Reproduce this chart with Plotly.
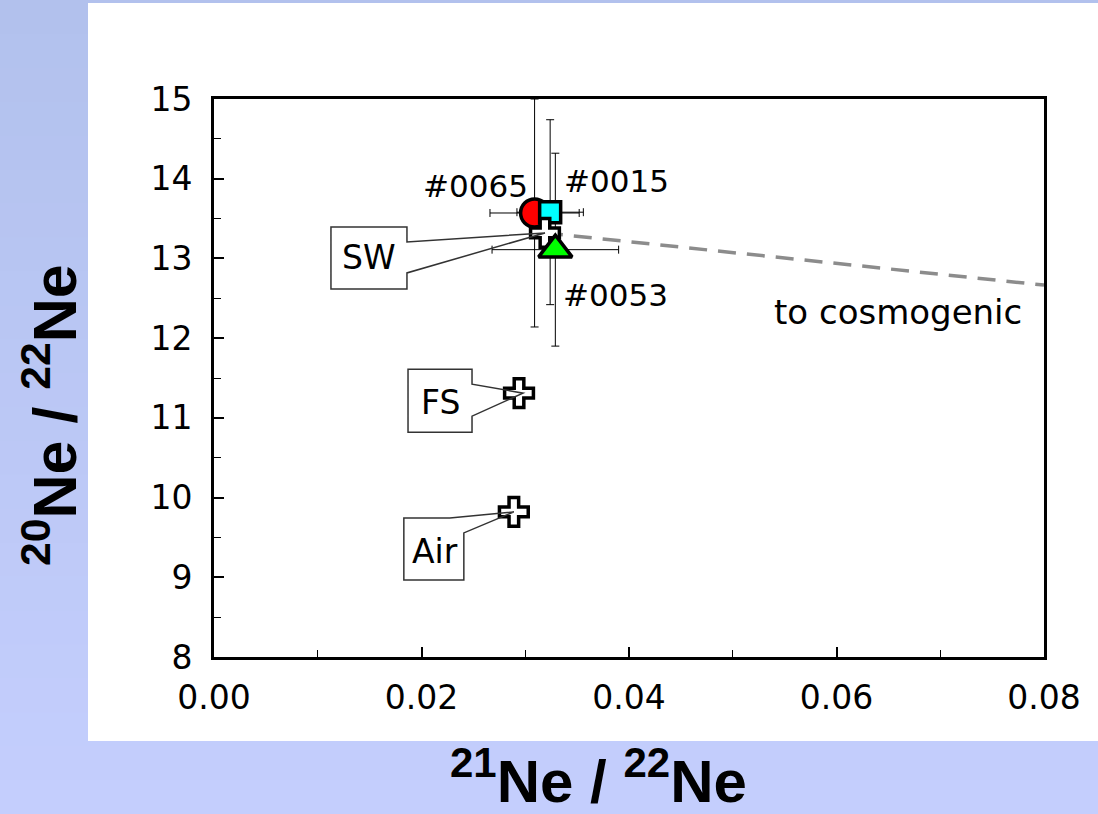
import plotly.graph_objects as go

# ---------------- data ----------------
samples = ["#0065", "#0015", "#0053"]
ne21_22 = [0.0309, 0.0324, 0.0329]
ne20_22 = [13.57, 13.58, 13.11]
ne21_err = [0.0043, 0.0032, 0.0061]
ne20_err = [1.43, 1.16, 1.21]
sample_colors = ["#ff0000", "#00ffff", "#00ff00"]
sample_symbols = ["circle", "square", "triangle-up"]
sample_sizes = [28, 21, 29]

refs = ["SW", "FS", "Air"]
ref_x = [0.0319, 0.0294, 0.0289]
ref_y = [13.32, 11.31, 9.82]

cosmo_x = [0.0319, 0.08]
cosmo_y = [13.32, 12.665]
cosmo_label = "to cosmogenic"

x_ticks = [0.00, 0.02, 0.04, 0.06, 0.08]
y_ticks = [8, 9, 10, 11, 12, 13, 14, 15]

# ---------------- layout constants (pixels) ----------------
W, H = 1098, 814
L, R, T, B = 214, 54, 99, 157
pw, ph = W - L - R, H - T - B
FONT = "DejaVu Sans, Liberation Sans, Arial, sans-serif"
TFONT = "Liberation Sans, Arial, sans-serif"

def px2paper_x(p):
    return (p - L) / pw

def px2paper_y(p):
    return (H - B - p) / ph

fig = go.Figure()

# mixing line toward cosmogenic
fig.add_trace(go.Scatter(x=cosmo_x, y=cosmo_y, mode="lines",
                         line=dict(color="#8c8c8c", width=3.5, dash="18px,11px"),
                         hoverinfo="skip", showlegend=False))

# error bars (behind all markers)
for i in range(len(samples)):
    fig.add_trace(go.Scatter(
        x=[ne21_22[i]], y=[ne20_22[i]], mode="markers",
        marker=dict(size=1, opacity=0),
        error_x=dict(type="data", array=[ne21_err[i]], color="black", thickness=1, width=4),
        error_y=dict(type="data", array=[ne20_err[i]], color="black", thickness=1, width=4),
        hoverinfo="skip", showlegend=False))

# sample markers: circle, square, then reference crosses, then triangle
order = [("s", 0), ("s", 1), ("r", 0), ("r", 1), ("r", 2), ("s", 2)]
for kind, i in order:
    if kind == "s":
        fig.add_trace(go.Scatter(
            x=[ne21_22[i]], y=[ne20_22[i]], mode="markers", name=samples[i],
            marker=dict(symbol=sample_symbols[i], size=sample_sizes[i],
                        color=sample_colors[i], line=dict(color="black", width=3.5)),
            showlegend=False))
    else:
        fig.add_trace(go.Scatter(
            x=[ref_x[i]], y=[ref_y[i]], mode="markers", name=refs[i],
            marker=dict(symbol="cross", size=24, color="white",
                        line=dict(color="black", width=3.5)),
            showlegend=False))

# ---------------- background ----------------
shapes = []
nstripes = 24
c_top = (178, 193, 237)
c_bot = (196, 206, 253)
for k in range(nstripes):
    f = k / (nstripes - 1)
    col = tuple(int(round(c_top[j] + (c_bot[j] - c_top[j]) * f)) for j in range(3))
    y0p = k * H / nstripes
    y1p = (k + 1) * H / nstripes
    shapes.append(dict(type="rect", xref="paper", yref="paper", layer="below",
                       x0=px2paper_x(0), x1=px2paper_x(W),
                       y0=px2paper_y(y1p + 1), y1=px2paper_y(y0p),
                       fillcolor="rgb(%d,%d,%d)" % col, line=dict(width=0)))
# white panel
shapes.append(dict(type="rect", xref="paper", yref="paper", layer="below",
                   x0=px2paper_x(88), x1=px2paper_x(W + 2),
                   y0=px2paper_y(741), y1=px2paper_y(3),
                   fillcolor="white", line=dict(width=0)))

# callout boxes (pixel offsets relative to each reference point)
callouts = {
    "SW": dict(path="M -214,6 L -138,6 L -138,-9 L 0,0 L -138,-40 L -138,-56 L -214,-56 Z",
               text=(-176, -25)),
    "FS": dict(path="M -111,24 L -47,24 L -47,9 L 4,0 L -47,-23 L -47,-39 L -111,-39 Z",
               text=(-79, -9)),
    "Air": dict(path="M -110,-6 L -64,-6 L 0,0 L -50,-21 L -50,-68 L -110,-68 Z",
                text=(-79, -40)),
}
annotations = []
for i, name in enumerate(refs):
    c = callouts[name]
    shapes.append(dict(type="path", xref="x", yref="y",
                       xsizemode="pixel", ysizemode="pixel",
                       xanchor=ref_x[i], yanchor=ref_y[i], path=c["path"],
                       line=dict(color="#333333", width=1.5), fillcolor="rgba(0,0,0,0)",
                       layer="above"))
    annotations.append(dict(x=ref_x[i], y=ref_y[i], xref="x", yref="y", text=name,
                            showarrow=False, xshift=c["text"][0], yshift=c["text"][1],
                            font=dict(family=FONT, size=33, color="black")))

# sample labels
label_shift = [(-59, 27), (66, 31), (60, -45)]
for i, s in enumerate(samples):
    annotations.append(dict(x=ne21_22[i], y=ne20_22[i], xref="x", yref="y", text=s,
                            showarrow=False, xshift=label_shift[i][0], yshift=label_shift[i][1],
                            font=dict(family=FONT, size=31, color="black")))

annotations.append(dict(x=cosmo_x[-1], y=cosmo_y[-1], xref="x", yref="y", text=cosmo_label,
                        showarrow=False, xanchor="right", xshift=-20, yshift=-27,
                        font=dict(family=FONT, size=34, color="black")))

# axis titles
annotations.append(dict(xref="paper", yref="paper", x=px2paper_x(598), y=px2paper_y(777),
                        text="<b><sup>21</sup>Ne / <sup>22</sup>Ne</b>", showarrow=False,
                        xanchor="center", yanchor="middle",
                        font=dict(family=TFONT, size=60, color="black")))
annotations.append(dict(xref="paper", yref="paper", x=px2paper_x(50), y=px2paper_y(415),
                        text="<b><sup>20</sup>Ne / <sup>22</sup>Ne</b>", showarrow=False,
                        textangle=-90, xanchor="center", yanchor="middle",
                        font=dict(family=TFONT, size=61, color="black")))

axis_common = dict(showline=True, linecolor="black", linewidth=3, mirror=True,
                   showgrid=False, zeroline=False, ticks="inside", ticklen=10,
                   tickwidth=1.5, tickcolor="black",
                   tickfont=dict(family=FONT, size=33, color="black"))

fig.update_layout(
    width=W, height=H,
    margin=dict(l=L, r=R, t=T, b=B, pad=0),
    paper_bgcolor="rgb(190,202,248)", plot_bgcolor="white",
    shapes=shapes, annotations=annotations,
    xaxis=dict(range=[0, 0.08], tickvals=x_ticks, tickformat=".2f",
               minor=dict(dtick=0.01, ticks="inside", ticklen=7, tickcolor="black", tickwidth=1),
               ticklabelstandoff=9, **axis_common),
    yaxis=dict(range=[8, 15], tickvals=y_ticks,
               minor=dict(dtick=0.5, ticks="inside", ticklen=7, tickcolor="black", tickwidth=1),
               ticklabelstandoff=12, **axis_common),
    showlegend=False,
)

fig.write_html("out.html")
